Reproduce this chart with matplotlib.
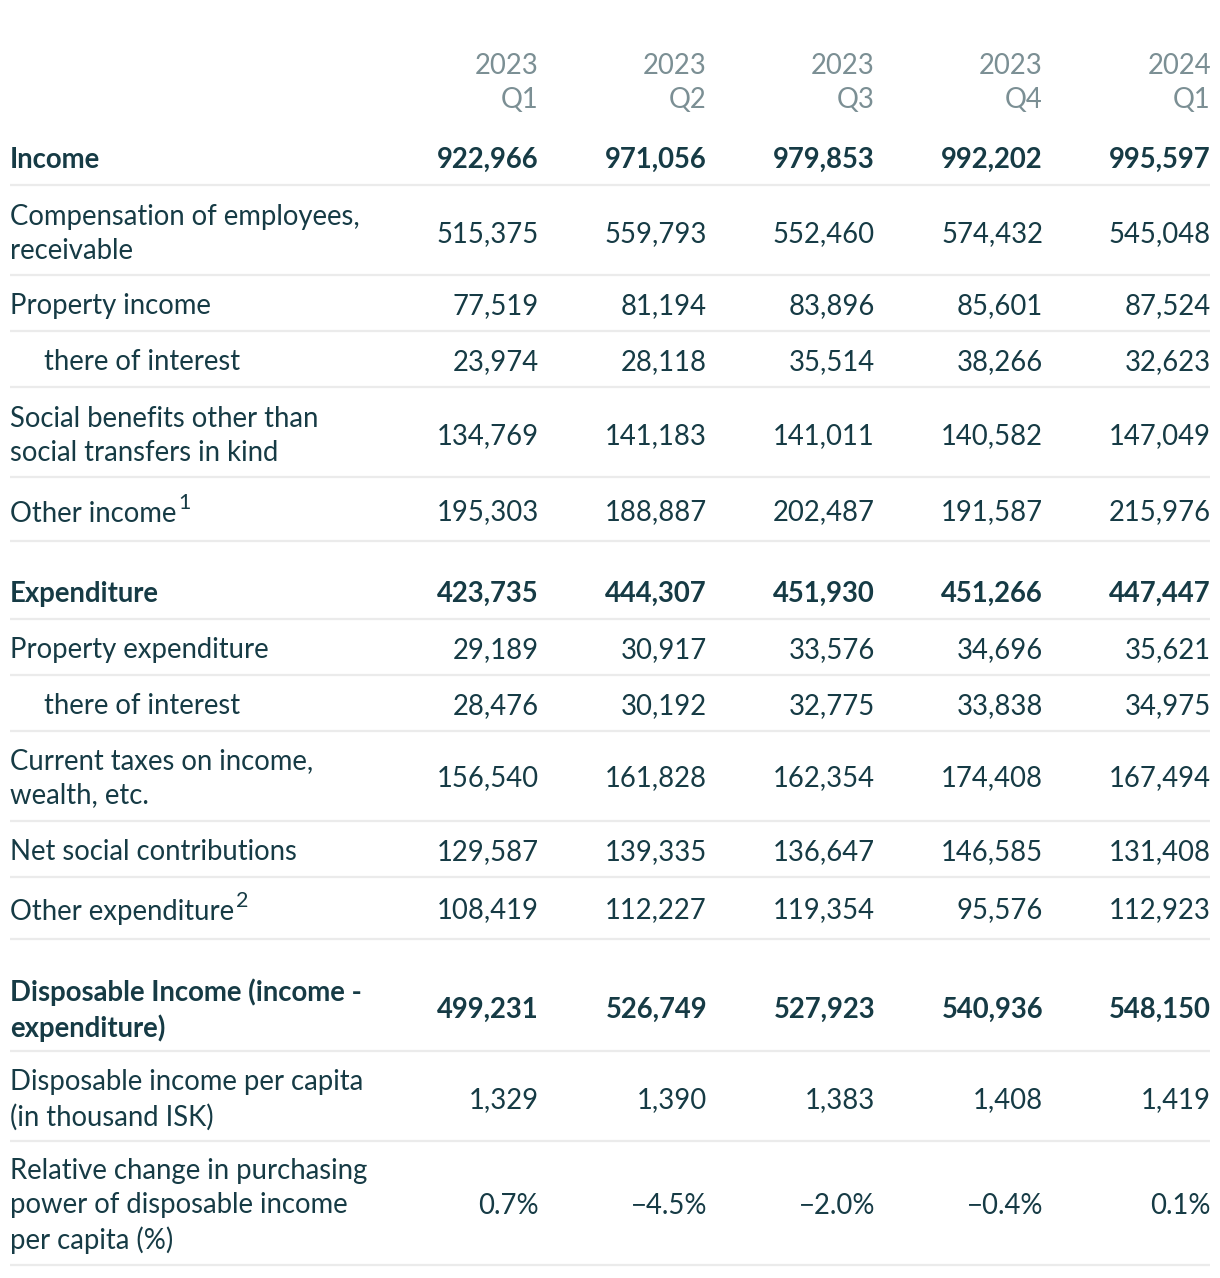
"""
Household income and expenditure, quarterly table
"""

import matplotlib.pyplot as plt

# --- data ---
QUARTERS = ["2023\nQ1", "2023\nQ2", "2023\nQ3", "2023\nQ4", "2024\nQ1"]

ROW_LABELS = [
    "Income",
    "Compensation of employees,\nreceivable",
    "Property income",
    "there of interest",
    "Social benefits other than\nsocial transfers in kind",
    "Other income",
    "Expenditure",
    "Property expenditure",
    "there of interest",
    "Current taxes on income,\nwealth, etc.",
    "Net social contributions",
    "Other expenditure",
    "Disposable Income (income -\nexpenditure)",
    "Disposable income per capita\n(in thousand ISK)",
    "Relative change in purchasing\npower of disposable income\nper capita (%)",
]
ROW_FOOTNOTES = ["", "", "", "", "", "1", "", "", "", "", "", "2", "", "", ""]
ROW_BOLD = [True, False, False, False, False, False, True, False, False,
            False, False, False, True, False, False]
ROW_INDENT = [False, False, False, True, False, False, False, False, True,
              False, False, False, False, False, False]

VALUES = [
    ["922,966", "971,056", "979,853", "992,202", "995,597"],
    ["515,375", "559,793", "552,460", "574,432", "545,048"],
    ["77,519", "81,194", "83,896", "85,601", "87,524"],
    ["23,974", "28,118", "35,514", "38,266", "32,623"],
    ["134,769", "141,183", "141,011", "140,582", "147,049"],
    ["195,303", "188,887", "202,487", "191,587", "215,976"],
    ["423,735", "444,307", "451,930", "451,266", "447,447"],
    ["29,189", "30,917", "33,576", "34,696", "35,621"],
    ["28,476", "30,192", "32,775", "33,838", "34,975"],
    ["156,540", "161,828", "162,354", "174,408", "167,494"],
    ["129,587", "139,335", "136,647", "146,585", "131,408"],
    ["108,419", "112,227", "119,354", "95,576", "112,923"],
    ["499,231", "526,749", "527,923", "540,936", "548,150"],
    ["1,329", "1,390", "1,383", "1,408", "1,419"],
    ["0.7%", "\u22124.5%", "\u22122.0%", "\u22120.4%", "0.1%"],
]

# --- layout (pixels) ---
W, H = 1220, 1278
COL_RIGHT = [539, 707, 875, 1043, 1211]
LEFT = 10
INDENT = 44
# vertical center of each row and separator below it
ROW_Y = [160, 234, 306, 362, 436, 512, 594, 650, 706, 778, 852, 910, 1010, 1100, 1206]
SEP_Y = [185, 275, 331, 387, 477, 541, 619, 675, 731, 821, 877, 939, 1051, 1141, 1265]
# rows with a superscript sit slightly lower
LABEL_DY = [0, 0, 0, 0, 0, 2, 0, 0, 0, 0, 0, 2, 0, 0, 0]

TEXT = "#163b45"
HEAD = "#7b8f94"
LINE = "#ebebeb"
FS = 19.8
LS = 1.39

plt.rcParams["font.family"] = ["Lato", "DejaVu Sans"]

fig = plt.figure(figsize=(W / 100, H / 100), dpi=100)
ax = fig.add_axes([0, 0, 1, 1])
ax.set_xlim(0, W)
ax.set_ylim(H, 0)
ax.axis("off")

# header
for q, xr in zip(QUARTERS, COL_RIGHT):
    ax.text(xr, 83, q, ha="right", va="center", color=HEAD, fontsize=FS,
            linespacing=LS, multialignment="right")

fig.canvas.draw()
renderer = fig.canvas.get_renderer()
inv = ax.transData.inverted()

for i, label in enumerate(ROW_LABELS):
    weight = "bold" if ROW_BOLD[i] else "normal"
    x0 = LEFT + (INDENT - LEFT) * ROW_INDENT[i]
    y = ROW_Y[i] + LABEL_DY[i]
    t = ax.text(x0, y, label, ha="left", va="center", color=TEXT,
                fontsize=FS, fontweight=weight, linespacing=LS)
    if ROW_FOOTNOTES[i]:
        bb = t.get_window_extent(renderer)
        x1, _ = inv.transform((bb.x1, bb.y1))
        ax.text(x1 + 1.5, y - 11, ROW_FOOTNOTES[i], ha="left", va="center",
                color=TEXT, fontsize=FS * 0.78)
    for v, xr in zip(VALUES[i], COL_RIGHT):
        ax.text(xr, ROW_Y[i], v, ha="right", va="center", color=TEXT,
                fontsize=FS, fontweight=weight)
    ax.plot([LEFT, 1210], [SEP_Y[i], SEP_Y[i]], color=LINE,
            lw=1.6, solid_capstyle="butt")

fig.savefig("out.png", dpi=100, facecolor="white")
